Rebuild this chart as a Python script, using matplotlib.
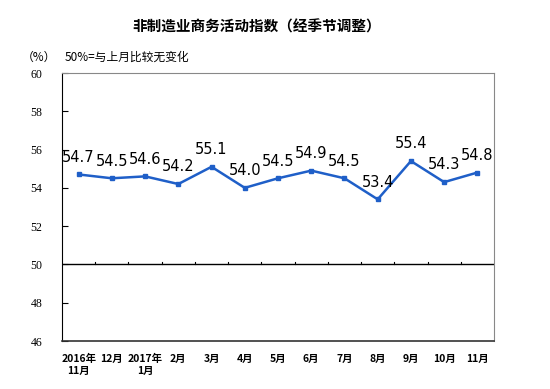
import matplotlib.pyplot as plt
import numpy as np

plt.rcParams['font.family'] = ['Noto Sans CJK SC', 'DejaVu Sans']

months = ["2016年\n11月", "12月", "2017年\n1月", "2月", "3月", "4月", "5月",
          "6月", "7月", "8月", "9月", "10月", "11月"]
index_values = [54.7, 54.5, 54.6, 54.2, 55.1, 54.0, 54.5, 54.9, 54.5, 53.4, 55.4, 54.3, 54.8]
y_ticks = [46, 48, 50, 52, 54, 56, 58, 60]

fig = plt.figure(figsize=(5.5, 3.89), dpi=100)
ax = fig.add_axes([62 / 550, 1 - 341 / 389, 432 / 550, 268 / 389])

x = np.arange(len(months))
ax.plot(x, index_values, color="#1f5fc8", lw=1.8, marker="s", markersize=3.5)
for xi, v in zip(x, index_values):
    ax.annotate(f"{v:.1f}", (xi, v), xytext=(0, 7), textcoords="offset points",
                ha="center", va="bottom", fontsize=10.5, family="DejaVu Sans")

ax.set_xlim(-0.5, len(months) - 0.5)
ax.set_ylim(46, 60)
ax.set_yticks(y_ticks)
ax.set_yticklabels([str(t) for t in y_ticks], family="Liberation Serif", fontsize=8.5)
ax.tick_params(axis="y", direction="in", length=4, pad=14, color="black")

# baseline at 50 with category boundary ticks
ax.axhline(50, color="black", lw=1)
for b in np.arange(0.5, len(months) - 0.5, 1):
    ax.plot([b, b], [50, 50.15], color="black", lw=0.8)

ax.set_xticks(x)
ax.set_xticklabels(months, fontsize=7.5, fontweight="bold", linespacing=1.3)
ax.tick_params(axis="x", length=0, pad=9)

for side in ["top", "right"]:
    ax.spines[side].set_color("#888888")
ax.spines["left"].set_color("black")
ax.spines["bottom"].set_color("#333333")
ax.spines["bottom"].set_linewidth(1.2)

fig.text(257 / 550, 1 - 27 / 389, "非制造业商务活动指数（经季节调整）", ha="center", va="center",
         fontsize=10.5, fontweight="bold")
fig.text(22 / 550, 1 - 57 / 389, "（%）", ha="left", va="center", fontsize=8.5)
fig.text(65 / 550, 1 - 57 / 389, "50%=与上月比较无变化", ha="left", va="center", fontsize=8.5)

fig.savefig("out.png", dpi=100)
